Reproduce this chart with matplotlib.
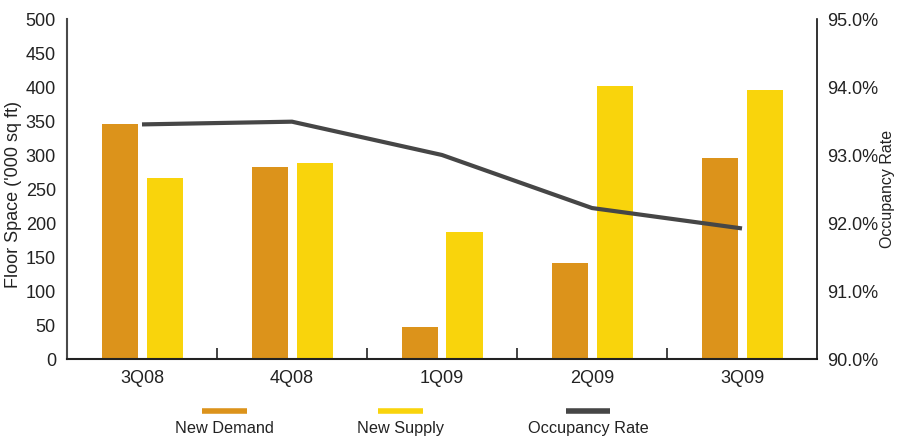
import matplotlib
matplotlib.use("Agg")
import matplotlib.pyplot as plt
from matplotlib.lines import Line2D
import numpy as np

plt.rcParams['font.family'] = ['Liberation Sans', 'DejaVu Sans']

quarters = ["3Q08", "4Q08", "1Q09", "2Q09", "3Q09"]
new_demand = [346, 282, 47, 141, 296]
new_supply = [266, 288, 187, 401, 396]
occupancy_rate = [93.45, 93.49, 93.00, 92.22, 91.92]

demand_color = "#DC931B"
supply_color = "#F9D40C"
line_color = "#464646"
text_color = "#222222"

W, H = 899, 439
fig = plt.figure(figsize=(W / 100, H / 100), dpi=100)
ax = fig.add_axes([67 / W, 1 - 360 / H, 750 / W, 340 / H])
ax2 = ax.twinx()

x = np.arange(len(quarters))
bw = 0.24
off = 0.15
ax.bar(x - off, new_demand, width=bw, color=demand_color, zorder=2)
ax.bar(x + off, new_supply, width=bw, color=supply_color, zorder=2)

ax2.plot(x, occupancy_rate, color=line_color, linewidth=3.0, solid_capstyle='butt', zorder=3)

ax.set_xlim(-0.5, len(quarters) - 0.5)
ax.set_ylim(0, 500)
ax.set_yticks(range(0, 501, 50))
ax2.set_ylim(90, 95)
ax2.set_yticks(np.arange(90, 95.01, 1.0))
ax2.set_yticklabels([f"{v:.1f}%" for v in np.arange(90, 95.01, 1.0)])

# Category labels centred, boundary ticks between groups
ax.set_xticks(x)
ax.set_xticklabels(quarters)
ax.tick_params(axis='x', which='major', length=0, pad=7, labelsize=13, labelcolor=text_color)
ax.set_xticks(np.arange(0.5, len(quarters) - 0.5, 1.0), minor=True)
ax.tick_params(axis='x', which='minor', direction='in', length=8, width=1.2, color='#222222')

ax.tick_params(axis='y', length=0, pad=8, labelsize=13, labelcolor=text_color)
ax2.tick_params(axis='y', length=0, pad=7, labelsize=13, labelcolor=text_color)

for a in (ax, ax2):
    a.spines['top'].set_visible(False)
ax.spines['right'].set_visible(False)
ax2.spines['left'].set_visible(False)
ax2.spines['bottom'].set_visible(False)
ax.spines['left'].set_color('#4a4a4a')
ax.spines['left'].set_linewidth(1.5)
ax.spines['bottom'].set_color('#222222')
ax.spines['bottom'].set_linewidth(1.5)
ax2.spines['right'].set_color('#111111')
ax2.spines['right'].set_linewidth(1.2)

fig.text(14 / W, 1 - 194 / H, "Floor Space ('000 sq ft)", rotation=90, ha='center', va='center',
         fontsize=13, color=text_color)
fig.text(880 / W, 1 - 189 / H, "Occupancy Rate", rotation=90, ha='left', va='center',
         fontsize=11.5, color=text_color)

# Legend: swatch line above each label
legend_items = [("New Demand", demand_color, 202, 247),
                ("New Supply", supply_color, 378, 423),
                ("Occupancy Rate", line_color, 566, 610)]
for label, color, x0, x1 in legend_items:
    yy = 1 - 412 / H
    fig.add_artist(Line2D([x0 / W, x1 / W], [yy, yy], transform=fig.transFigure,
                          color=color, linewidth=4, solid_capstyle='butt'))
    fig.text((x0 + x1) / 2 / W, 1 - 429 / H, label, ha='center', va='center',
             fontsize=11.7, color=text_color)

fig.savefig("out.png", dpi=100)
